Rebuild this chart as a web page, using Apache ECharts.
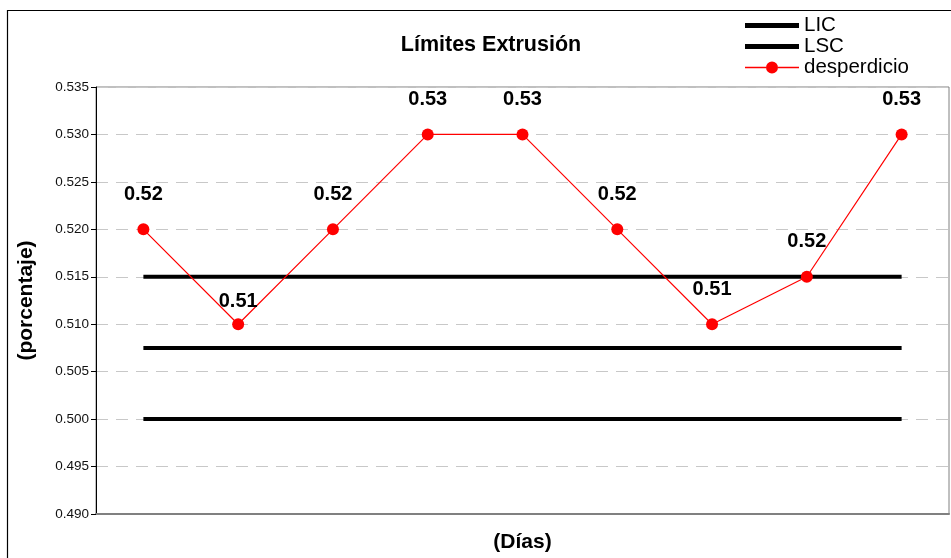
<!DOCTYPE html>
<html>
<head>
<meta charset="utf-8">
<style>
  html, body { margin: 0; padding: 0; background: #fff; }
  #chart { width: 951px; height: 558px; }
</style>
<script src="https://cdn.jsdelivr.net/npm/echarts@6/dist/echarts.min.js"></script>
</head>
<body>
<div id="chart"></div>
<script>
// Daily extrusion waste with control limits
const days = ['1', '2', '3', '4', '5', '6', '7', '8', '9'];
const desperdicio = [0.520, 0.510, 0.520, 0.530, 0.530, 0.520, 0.510, 0.515, 0.530];
const lscValue = 0.515;
const centerValue = 0.5075;
const licValue = 0.500;
const yTicks = { min: 0.490, max: 0.535, step: 0.005 };

const flat = v => days.map(() => v);
const FONT = 'Arial, "Liberation Sans", sans-serif';

// legend glyphs drawn in a 54x14 box (corner specks pin the bounding box)
const BOX = 'M0,0L0.01,0L0,0.01ZM54,14L53.99,14L54,13.99Z';
const thickLineIcon = 'path://' + BOX + 'M0,4.6L54,4.6L54,9.4L0,9.4Z';
const markerLineIcon = 'path://' + BOX +
  'M0,6.2L21,6.2L21,7.8L0,7.8ZM33,6.2L54,6.2L54,7.8L33,7.8Z' +
  'M21,7A6,6,0,1,1,33,7A6,6,0,1,1,21,7Z';

const chart = echarts.init(document.getElementById('chart'), null, { renderer: 'canvas' });

const wasteData = desperdicio.map((v, i) => {
  // the second point's label sits closer to its marker
  if (i === 1) return { value: v, label: { distance: 7 } };
  return v;
});

chart.setOption({
  animation: false,
  backgroundColor: '#ffffff',
  graphic: [{
    type: 'rect',
    shape: { x: 7.5, y: 10.5, width: 980, height: 580 },
    style: { fill: 'none', stroke: '#000', lineWidth: 1.2 },
    silent: true, z: -1
  }],
  title: {
    text: 'Límites Extrusión',
    left: 486, top: 29, textAlign: 'center',
    textStyle: { fontFamily: FONT, fontSize: 21.5, fontWeight: 'bold', color: '#000' }
  },
  legend: {
    orient: 'vertical',
    left: 745, top: 15, padding: 0,
    itemWidth: 54, itemHeight: 14, itemGap: 0,
    itemStyle: { borderWidth: 0 },
    textStyle: { fontFamily: FONT, fontSize: 20.5, lineHeight: 21, color: '#000' },
    data: [
      { name: 'LIC', icon: thickLineIcon },
      { name: 'LSC', icon: thickLineIcon },
      { name: 'desperdicio', icon: markerLineIcon }
    ]
  },
  grid: {
    left: 96, right: 2, top: 87, bottom: 41,
    show: true, borderColor: '#808080', borderWidth: 1
  },
  xAxis: {
    type: 'category',
    data: days,
    boundaryGap: true,
    name: '(Días)', nameLocation: 'middle', nameGap: 18,
    nameTextStyle: { fontFamily: FONT, fontSize: 21, fontWeight: 'bold', color: '#000' },
    axisLine: { lineStyle: { color: '#808080', width: 2 } },
    axisTick: { show: false },
    axisLabel: { show: false },
    splitLine: { show: false }
  },
  yAxis: {
    type: 'value',
    min: yTicks.min, max: yTicks.max, interval: yTicks.step,
    name: '(porcentaje)', nameLocation: 'middle', nameGap: 59,
    nameTextStyle: { fontFamily: FONT, fontSize: 21, fontWeight: 'bold', color: '#000' },
    axisLine: { show: true, lineStyle: { color: '#000', width: 1 } },
    axisTick: { show: true, inside: false, length: 5, lineStyle: { color: '#000' } },
    axisLabel: {
      fontFamily: FONT, fontSize: 13.5, color: '#111', margin: 7,
      formatter: v => v.toFixed(3)
    },
    splitLine: { show: true, lineStyle: { color: '#c8c8c8', width: 1, type: [12, 8] } }
  },
  series: [
    {
      name: 'LSC', type: 'line', data: flat(lscValue),
      symbol: 'none', lineStyle: { color: '#000', width: 4 }, itemStyle: { color: '#000' }, z: 2
    },
    {
      name: 'media', type: 'line', data: flat(centerValue),
      symbol: 'none', lineStyle: { color: '#000', width: 4 }, itemStyle: { color: '#000' }, z: 2
    },
    {
      name: 'LIC', type: 'line', data: flat(licValue),
      symbol: 'none', lineStyle: { color: '#000', width: 4 }, itemStyle: { color: '#000' }, z: 2
    },
    {
      name: 'desperdicio', type: 'line', data: wasteData,
      symbol: 'circle', symbolSize: 12,
      lineStyle: { color: '#ff0000', width: 1.2 },
      itemStyle: { color: '#ff0000' },
      z: 3,
      label: {
        show: true, position: 'top', distance: 19,
        fontFamily: FONT, fontSize: 20, fontWeight: 'bold', color: '#000',
        formatter: p => p.value.toFixed(2)
      }
    }
  ]
});
</script>
</body>
</html>
